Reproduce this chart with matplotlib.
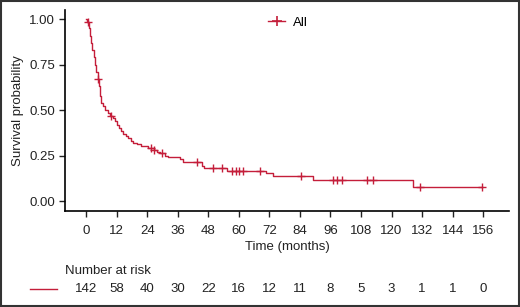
import numpy as np
import matplotlib
matplotlib.use('Agg')
import matplotlib.pyplot as plt
from matplotlib.lines import Line2D
from matplotlib.patches import Rectangle
import matplotlib.transforms as mtransforms

# Kaplan-Meier step curve (time in months, survival after the step)
event_times = [0, 0.5, 1.0, 1.5, 2.0, 2.5, 3.0, 3.5, 4.0, 4.5, 5.0, 5.5, 6.0, 6.8,
               7.5, 8.5, 9.5, 10.5, 11.3, 12.0, 12.8, 13.6, 14.5, 15.5, 16.5,
               17.5, 18.5, 20.0, 21.5, 23.0, 24.5, 26.5, 28.0, 29.0, 31.0, 32.0,
               37.0, 38.0, 45.5, 46.5, 55.5, 70.5, 73.5, 89.0, 128.5]
surv = [1.0, 0.985, 0.95, 0.91, 0.87, 0.83, 0.79, 0.75, 0.71, 0.67, 0.63, 0.58,
        0.54, 0.52, 0.50, 0.485, 0.47, 0.455, 0.44, 0.42, 0.40, 0.385, 0.37,
        0.355, 0.345, 0.33, 0.32, 0.315, 0.305, 0.30, 0.29, 0.28, 0.27, 0.265,
        0.25, 0.24, 0.23, 0.215, 0.19, 0.18, 0.165, 0.155, 0.14, 0.115, 0.075]
censor_times = [0.6, 4.7, 9.8, 25.5, 26.5, 30.0, 43.5, 50.0, 53.5, 57.5, 58.8,
                60.2, 61.7, 68.5, 84.5, 97.0, 98.6, 100.4, 110.4, 112.8, 131.0, 155.5]

risk_times = [0, 12, 24, 36, 48, 60, 72, 84, 96, 108, 120, 132, 144, 156]
at_risk = [142, 58, 40, 30, 22, 16, 12, 11, 8, 5, 3, 1, 1, 0]

col = '#C41E3A'
txt = '#222222'
plt.rcParams['font.family'] = ['Liberation Sans', 'DejaVu Sans']
fs = 9.5

fig = plt.figure(figsize=(5.2, 3.07), dpi=100)
ax = fig.add_axes([0.125, 0.3127, 0.854, 0.6543])

# extend curve to last censor
t = np.array(event_times + [censor_times[-1]])
s = np.array(surv + [surv[-1]])
ax.plot(t, s, drawstyle='steps-post', color=col, lw=1.0)

idx = np.searchsorted(event_times, censor_times, side='right') - 1
cs = np.array(surv)[idx]
ax.plot(censor_times, cs, ls='none', marker='+', ms=6, mew=1.0, color=col)

ax.set_xlim(-8.3, 166.2)
ax.set_ylim(-0.055, 1.05)
ax.set_xticks(risk_times)
ax.set_yticks([0, 0.25, 0.5, 0.75, 1.0])
ax.set_yticklabels(['0.00', '0.25', '0.50', '0.75', '1.00'])
for sp in ['top', 'right']:
    ax.spines[sp].set_visible(False)
for sp in ['left', 'bottom']:
    ax.spines[sp].set_linewidth(1.2)
ax.tick_params(direction='out', length=4, width=1, labelsize=fs, colors=txt, pad=6)
ax.tick_params(axis='y', pad=3)

ax.set_xlabel('Time (months)', fontsize=fs, color=txt)
ax.xaxis.label.set_va('center')
ax.xaxis.set_label_coords(0.5, -0.179)
ax.set_ylabel('Survival probability', fontsize=fs, color=txt)
ax.yaxis.label.set_va('center')
ax.yaxis.set_label_coords(-0.106, 0.5)

# legend
h = Line2D([], [], color=col, lw=1.0, marker='+', ms=7, mew=1.2)
fig.legend([h], ['All'], loc='center left', bbox_to_anchor=(268 / 520, 1 - 23 / 307),
           frameon=False, fontsize=fs, handlelength=1.3, handletextpad=0.6,
           borderpad=0, borderaxespad=0)

# risk table
fig.text(65 / 520, 1 - 271 / 307, 'Number at risk', fontsize=fs, color=txt,
         ha='left', va='center')
trans = mtransforms.blended_transform_factory(ax.transData, fig.transFigure)
for rt, n in zip(risk_times, at_risk):
    fig.text(rt, 1 - 289 / 307, str(n), transform=trans, fontsize=fs,
             color=txt, ha='center', va='center')
fig.add_artist(Line2D([30 / 520, 57 / 520], [1 - 289 / 307] * 2, color=col, lw=1.0))

# outer frame
fig.add_artist(Rectangle((0.002, 0.003), 0.996, 0.994, transform=fig.transFigure,
                         fill=False, edgecolor='#333333', lw=1.5))

fig.savefig('out.png', dpi=100)
